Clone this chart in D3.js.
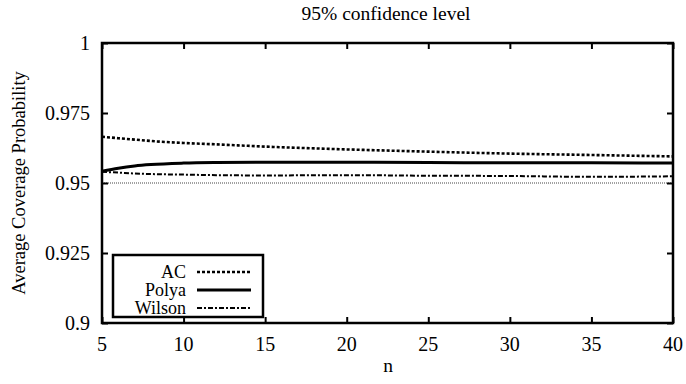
<!DOCTYPE html>
<html>
<head>
<meta charset="utf-8">
<script src="https://cdn.jsdelivr.net/npm/d3@7"></script>
</head>
<body style="margin:0">
<script>
// values
var nValues = [5, 6, 7, 8, 10, 12, 15, 20, 25, 30, 35, 40];
var acValues = [0.9665, 0.9660, 0.9655, 0.9650, 0.9643, 0.9638, 0.9630, 0.9620, 0.9612, 0.9605, 0.9600, 0.9595];
var polyaValues = [0.9542, 0.9553, 0.9561, 0.9566, 0.9571, 0.9573, 0.9574, 0.9574, 0.9573, 0.9572, 0.9572, 0.9571];
var wilsonValues = [0.9540, 0.9537, 0.9534, 0.9532, 0.9530, 0.9528, 0.9527, 0.9528, 0.9526, 0.9525, 0.9522, 0.9524];
var nominalLevel = 0.95;
var xTicks = [5, 10, 15, 20, 25, 30, 35, 40];
var yTicks = [0.9, 0.925, 0.95, 0.975, 1];
var seriesNames = ["AC", "Polya", "Wilson"];

var width = 686, height = 384;
var margin = {top: 43, right: 13, bottom: 61, left: 102};

var svg = d3.select("body").append("svg")
    .attr("width", width)
    .attr("height", height)
    .attr("font-family", "Times New Roman")
    .attr("font-size", 18);

var x = d3.scaleLinear().domain([5, 40]).range([margin.left, width - margin.right]);
var y = d3.scaleLinear().domain([0.9, 1]).range([height - margin.bottom, margin.top]);

var styles = {
    AC: {width: 2.6, dash: "3,2"},
    Polya: {width: 3, dash: null},
    Wilson: {width: 2, dash: "5,2,2,2"}
};
var seriesData = {AC: acValues, Polya: polyaValues, Wilson: wilsonValues};

// serif text helper
function label(parent, tx, ty, str, anchor, size) {
    return parent.append("text")
        .attr("x", tx).attr("y", ty)
        .attr("text-anchor", anchor)
        .attr("font-family", "Times New Roman")
        .attr("font-size", size)
        .text(str);
}

// nominal level line
svg.append("line")
    .attr("x1", x(5)).attr("x2", x(40))
    .attr("y1", y(nominalLevel)).attr("y2", y(nominalLevel))
    .attr("stroke", "#444")
    .attr("stroke-width", 1)
    .attr("stroke-dasharray", "1,1");

var line = d3.line()
    .x(function (d) { return x(d[0]); })
    .y(function (d) { return y(d[1]); })
    .curve(d3.curveMonotoneX);

seriesNames.forEach(function (name) {
    var pts = nValues.map(function (n, i) { return [n, seriesData[name][i]]; });
    svg.append("path")
        .attr("d", line(pts))
        .attr("fill", "none")
        .attr("stroke", "#000")
        .attr("stroke-width", styles[name].width)
        .attr("stroke-dasharray", styles[name].dash);
});

// gnuplot style ticks: inside, mirrored on all four sides
var tickLen = 6;
svg.append("g")
    .attr("transform", "translate(0," + y(0.9) + ")")
    .call(d3.axisBottom(x).tickValues(xTicks).tickSize(-tickLen).tickFormat(""));
svg.append("g")
    .attr("transform", "translate(0," + y(1) + ")")
    .call(d3.axisTop(x).tickValues(xTicks).tickSize(-tickLen).tickFormat(""));
svg.append("g")
    .attr("transform", "translate(" + x(5) + ",0)")
    .call(d3.axisLeft(y).tickValues(yTicks).tickSize(-tickLen).tickFormat(""));
svg.append("g")
    .attr("transform", "translate(" + x(40) + ",0)")
    .call(d3.axisRight(y).tickValues(yTicks).tickSize(-tickLen).tickFormat(""));

svg.selectAll(".domain").remove();
svg.selectAll(".tick line").attr("stroke", "#000").attr("stroke-width", 2);
svg.selectAll(".tick text").remove();

// tick labels
xTicks.forEach(function (t) {
    label(svg, x(t), y(0.9) + 28, d3.format("d")(t), "middle", 20);
});
yTicks.forEach(function (t) {
    label(svg, x(5) - 12, y(t) + 7, String(+t.toFixed(3)), "end", 20);
});

svg.append("rect")
    .attr("x", x(5)).attr("y", y(1))
    .attr("width", x(40) - x(5)).attr("height", y(0.9) - y(1))
    .attr("fill", "none").attr("stroke", "#000").attr("stroke-width", 2.5);

// titles
label(svg, 386, 20, "95% confidence level", "middle", 19.5);
label(svg, 388, 372, "n", "middle", 19.5);
label(svg, 0, 0, "Average Coverage Probability", "middle", 18.5)
    .attr("transform", "translate(25," + y(0.95) + ") rotate(-90)");

// legend
var legend = svg.append("g");
legend.append("rect")
    .attr("x", 113).attr("y", 255)
    .attr("width", 150).attr("height", 62)
    .attr("fill", "#fff").attr("stroke", "#000").attr("stroke-width", 2.5);
seriesNames.forEach(function (name, i) {
    var ry = 272 + i * 18;
    label(legend, 186, ry + 6, name, "end", 18);
    legend.append("line")
        .attr("x1", 197).attr("x2", 251)
        .attr("y1", ry).attr("y2", ry)
        .attr("stroke", "#000")
        .attr("stroke-width", styles[name].width)
        .attr("stroke-dasharray", styles[name].dash);
});
</script>
</body>
</html>
